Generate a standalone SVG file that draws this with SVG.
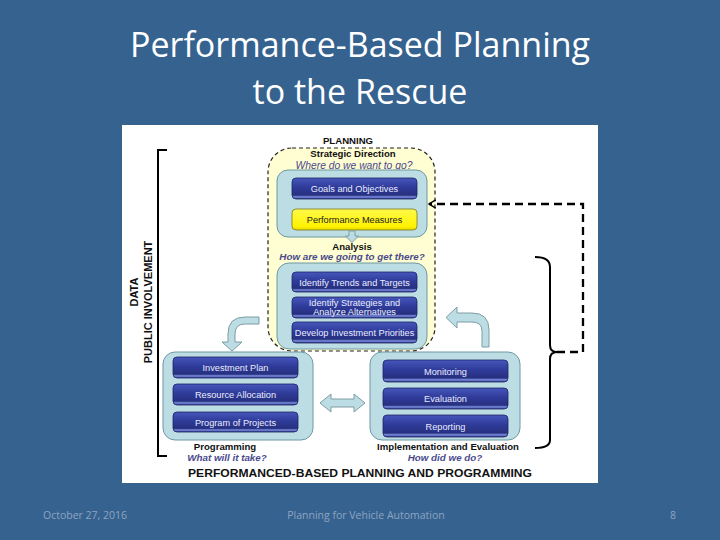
<svg xmlns="http://www.w3.org/2000/svg" width="720" height="540" viewBox="0 0 720 540">
<defs>
<linearGradient id="btn" x1="0" y1="0" x2="0" y2="1">
<stop offset="0" stop-color="#4656BC"/>
<stop offset="0.45" stop-color="#2F3B99"/>
<stop offset="0.82" stop-color="#27307F"/>
<stop offset="0.9" stop-color="#7C8FE0"/>
<stop offset="1" stop-color="#2A3285"/>
</linearGradient>
<linearGradient id="ylw" x1="0" y1="0" x2="0" y2="1">
<stop offset="0" stop-color="#FFF94A"/>
<stop offset="0.85" stop-color="#FFF200"/>
<stop offset="1" stop-color="#E0D400"/>
</linearGradient>
<marker id="chev" viewBox="0 0 10 10" refX="8.5" refY="5" markerWidth="4.5" markerHeight="4.5" orient="auto" markerUnits="strokeWidth">
<path d="M2,1 L8.5,5 L2,9" fill="none" stroke="#000" stroke-width="1.4"/>
</marker>
</defs>
<style>
.title{font-family:"Open Sans","Liberation Sans",sans-serif;font-size:34px;fill:#FFFFFF;text-anchor:middle}
.foot{font-family:"Open Sans","Liberation Sans",sans-serif;font-size:10.5px;fill:#8EA5C2}
.cont{fill:#BCDDE3;stroke:#6F98A2;stroke-width:1}
.btn{fill:url(#btn);stroke:#1E2563;stroke-width:0.8}
.bt{font-family:"Liberation Sans",Arial,sans-serif;font-size:9.2px;fill:#E8ECFF;text-anchor:middle}
.lbl{font-family:"Liberation Sans",Arial,sans-serif;font-size:9.6px;font-weight:bold;fill:#111;text-anchor:middle}
.q{font-family:"Liberation Sans",Arial,sans-serif;font-size:9.8px;font-style:italic;font-weight:bold;fill:#4A4A8C;text-anchor:middle}
.arr{fill:#BCDDE3;stroke:#7E9CA5;stroke-width:1}
.conn{fill:none;stroke:#000}
</style>
<rect width="720" height="540" fill="#35628F"/>
<text class="title" x="360" y="57">Performance-Based Planning</text>
<text class="title" x="360" y="104">to the Rescue</text>
<rect x="122" y="125" width="476" height="358" fill="#FFFFFF"/>

<g id="side-labels">
<text class="lbl" transform="translate(138,292) rotate(-90)" style="font-size:11px">DATA</text>
<text class="lbl" transform="translate(152,302) rotate(-90)" style="font-size:11px">PUBLIC INVOLVEMENT</text>
</g>

<g id="planning">
<rect x="268" y="148" width="167" height="203" rx="24" fill="#FFFDD2" stroke="#222" stroke-width="1.2" stroke-dasharray="4 3"/>
<text class="lbl" x="348" y="144">PLANNING</text>
<text class="lbl" x="353" y="157">Strategic Direction</text>
<text class="q" x="354" y="169" style="font-weight:normal;font-size:10.3px">Where do we want to go?</text>
<text class="lbl" x="352" y="250">Analysis</text>
<text class="q" x="352" y="260">How are we going to get there?</text>
</g>

<g id="strategic">
<rect class="cont" x="277" y="170" width="150" height="67" rx="11"/>
<g id="goals"><rect class="btn" x="292" y="178" width="125" height="21" rx="4"/><text class="bt" x="354.5" y="192">Goals and Objectives</text></g>
<g id="measures"><rect x="292" y="209" width="125" height="21" rx="4" fill="url(#ylw)" stroke="#7A7A20" stroke-width="0.8"/><text class="bt" x="354.5" y="223" style="fill:#222">Performance Measures</text></g>
</g>

<g id="analysis">
<rect class="cont" x="277" y="263" width="150" height="86" rx="12"/>
<g id="trends"><rect class="btn" x="292" y="272" width="125" height="20" rx="4"/><text class="bt" x="354.5" y="285.5">Identify Trends and Targets</text></g>
<g id="strategies"><rect class="btn" x="292" y="297" width="125" height="21" rx="4"/><text class="bt" x="354.5" y="305.5">Identify Strategies and</text><text class="bt" x="354.5" y="315">Analyze Alternatives</text></g>
<g id="priorities"><rect class="btn" x="292" y="322" width="125" height="21" rx="4"/><text class="bt" x="354.5" y="335.5">Develop Investment Priorities</text></g>
</g>

<g id="programming">
<rect class="cont" x="163" y="352" width="150" height="88" rx="12"/>
<g id="invplan"><rect class="btn" x="173" y="357" width="125" height="21" rx="4"/><text class="bt" x="235.5" y="371">Investment Plan</text></g>
<g id="resalloc"><rect class="btn" x="173" y="384" width="125" height="21" rx="4"/><text class="bt" x="235.5" y="398">Resource Allocation</text></g>
<g id="projects"><rect class="btn" x="173" y="412" width="125" height="20" rx="4"/><text class="bt" x="235.5" y="425.5">Program of Projects</text></g>
<text class="lbl" x="225" y="450">Programming</text>
<text class="q" x="227" y="461">What will it take?</text>
</g>

<g id="implementation">
<rect class="cont" x="370" y="352" width="150" height="88" rx="12"/>
<g id="monitoring"><rect class="btn" x="383" y="360" width="125" height="22" rx="4"/><text class="bt" x="445.5" y="374.5">Monitoring</text></g>
<g id="evaluation"><rect class="btn" x="383" y="388" width="125" height="21" rx="4"/><text class="bt" x="445.5" y="402">Evaluation</text></g>
<g id="reporting"><rect class="btn" x="383" y="415" width="125" height="22" rx="4"/><text class="bt" x="445.5" y="429.5">Reporting</text></g>
<text class="lbl" x="448" y="450">Implementation and Evaluation</text>
<text class="q" x="445" y="461">How did we do?</text>
</g>

<g id="connectors">
<path class="arr" d="M349,231 L355,231 L355,236 L358.5,236 L352,242.5 L345.5,236 L349,236 Z"/>
<path class="arr" d="M259,317 L245,317 Q228,317 228,334 L228,342 L222,342 L232,351 L242,342 L235,342 L235,334 Q235,324 245,324 L259,324 Z"/>
<path class="arr" d="M482,347 L482,331 Q482,322 472,322 L457,322 L457,328 L446,317.5 L457,307 L457,313 L472,313 Q489,313 489,330 L489,347 Z"/>
<path class="arr" d="M320,403 L331,394 L331,399 L354,399 L354,394 L365,403 L354,412 L354,407 L331,407 L331,412 Z"/>
<path class="conn" stroke-width="2" d="M167,150 L158,150 L158,456 L167,456"/>
<path class="conn" stroke-width="2" d="M535,257 Q550,257 550,267 L550,345 Q550,352 557,352 Q550,352 550,359 L550,440 Q550,448 535,448"/>
<path class="conn" stroke-width="2.3" stroke-dasharray="8 5" d="M557,352 L583,352 L583,204 L429,204" marker-end="url(#chev)"/>
<text x="360" y="477" textLength="344" lengthAdjust="spacingAndGlyphs" style="font-family:'Liberation Sans',Arial,sans-serif;font-size:11.5px;font-weight:bold;fill:#111;text-anchor:middle">PERFORMANCED-BASED PLANNING AND PROGRAMMING</text>
</g>

<text class="foot" x="43" y="519">October 27, 2016</text>
<text class="foot" x="366" y="519" text-anchor="middle">Planning for Vehicle Automation</text>
<text class="foot" x="673" y="519" text-anchor="middle">8</text>
</svg>
